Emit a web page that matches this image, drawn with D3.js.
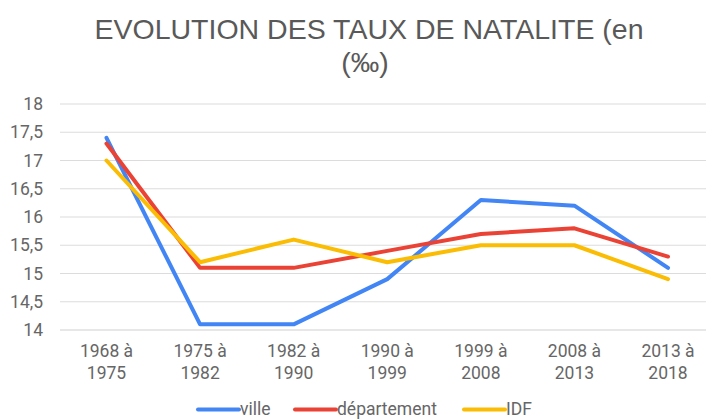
<!DOCTYPE html>
<html><head><meta charset="utf-8">
<script src="https://cdn.jsdelivr.net/npm/d3@7"></script>
<style>body{margin:0;background:#fff}svg{display:block}text{font-family:Roboto,Arial,sans-serif}</style>
</head><body><svg id="c" width="706" height="419"></svg>
<script>
const categories = ["1968 à|1975","1975 à|1982","1982 à|1990","1990 à|1999","1999 à|2008","2008 à|2013","2013 à|2018"];
const ville = [17.4,14.1,14.1,14.9,16.3,16.2,15.1];
const departement = [17.3,15.1,15.1,15.4,15.7,15.8,15.3];
const idf = [17.0,15.2,15.6,15.2,15.5,15.5,14.9];
const yTicks = [14,14.5,15,15.5,16,16.5,17,17.5,18];
const seriesNames = ["ville","département","IDF"];
const colors = ["#4285F4","#EA4335","#FBBC04"];

const svg = d3.select("#c");
const x = d3.scaleBand().domain(categories).range([59.7,714.8]);
const y = d3.scaleLinear().domain([14,18]).range([330,104]);
const fmt = d => String(d).replace(".",",");

// title
const t = svg.append("text").attr("text-anchor","middle").attr("fill","#595959")
  .style("font-family","'Liberation Sans',Arial,sans-serif").style("font-size","28.5px");
t.append("tspan").attr("x",369).attr("y",39).text("EVOLUTION DES TAUX DE NATALITE (en");
t.append("tspan").attr("x",365).attr("y",72).text("(‰)");

// grid
svg.append("g").selectAll("line").data(yTicks).join("line")
  .attr("x1",60).attr("x2",706).attr("y1",d=>y(d)).attr("y2",d=>y(d))
  .attr("stroke",d=>d===14?"#cfcfcf":"#dcdcdc").attr("stroke-width",1.2);
svg.append("g").selectAll("text").data(yTicks).join("text")
  .attr("x",43).attr("y",d=>y(d)).attr("dy","0.35em").attr("text-anchor","end")
  .attr("fill","#666").style("font-size","17.5px").text(fmt);

// x labels
const xl = svg.append("g").selectAll("text").data(categories).join("text")
  .attr("text-anchor","middle").attr("fill","#666").style("font-size","17.5px");
xl.each(function(d){
  const parts = d.split("|"); const cx = x(d)+x.bandwidth()/2;
  d3.select(this).selectAll("tspan").data(parts).join("tspan")
    .attr("x",cx).attr("y",(p,i)=>357+i*22).text(p=>p);
});

// lines
const data = [ville, departement, idf];
const line = d3.line().x((v,i)=>x(categories[i])+x.bandwidth()/2).y(v=>y(v));
svg.append("g").selectAll("path").data(data).join("path")
  .attr("d",line).attr("fill","none").attr("stroke",(d,i)=>colors[i])
  .attr("stroke-width",4).attr("stroke-linejoin","round").attr("stroke-linecap","round");

// legend
const lx = [197,294,463];
const lg = svg.append("g").selectAll("g").data(seriesNames).join("g");
lg.append("line").attr("x1",(d,i)=>lx[i]+1).attr("x2",(d,i)=>lx[i]+42).attr("y1",409.5).attr("y2",409.5)
  .attr("stroke",(d,i)=>colors[i]).attr("stroke-width",4).attr("stroke-linecap","round");
lg.append("text").attr("x",(d,i)=>lx[i]+43).attr("y",414.5)
  .attr("fill","#666").style("font-size","17.5px").text(d=>d);
</script></body></html>
